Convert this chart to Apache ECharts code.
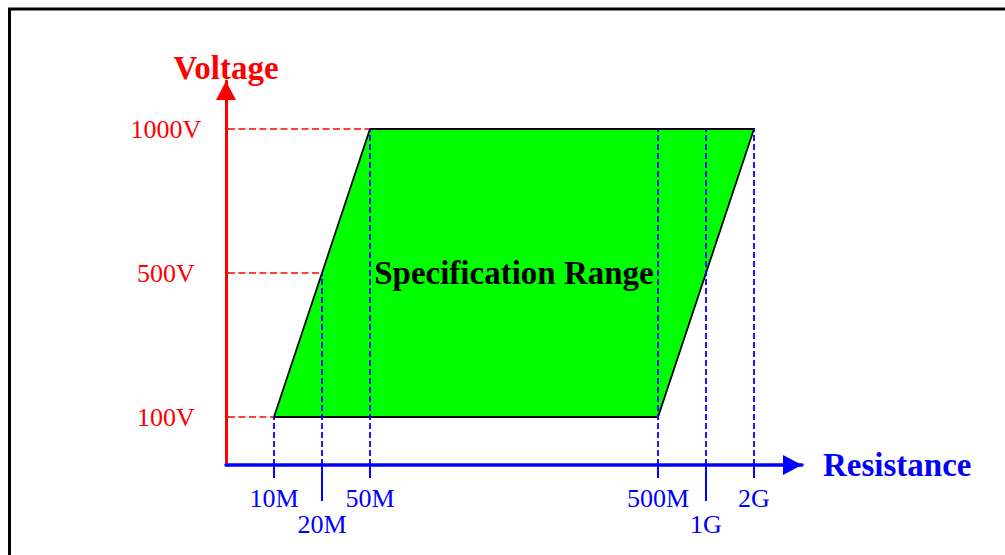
<!DOCTYPE html>
<html>
<head>
<meta charset="utf-8">
<script src="https://cdn.jsdelivr.net/npm/echarts@6/dist/echarts.min.js"></script>
<style>
html, body { margin: 0; padding: 0; background: #fff; }
#chart { width: 1005px; height: 555px; }
</style>
</head>
<body>
<div id="chart"></div>
<script>
// ---- data (schematic slots on each axis) ----
const resistanceLabels = ['10M', '20M', '50M', '500M', '1G', '2G'];
const resistanceSlots = [1, 2, 3, 9, 10, 11];
const resistanceGuideTop = [1, 4, 7, 7, 7, 7];   // voltage slot each vertical guide reaches
const resistanceLabelRow = [0, 1, 0, 0, 1, 0];   // 0 = upper row, 1 = lower row
const voltageLabels = ['100V', '500V', '1000V'];
const voltageSlots = [1, 4, 7];
const voltageGuideEnd = [1, 2, 3];                // resistance slot where horizontal guide ends
const rangeCorners = [[1, 1], [3, 7], [11, 7], [9, 1]]; // [resistance slot, voltage slot]
const rangeName = 'Specification Range';
const xAxisName = 'Resistance';
const yAxisName = 'Voltage';

const RED = '#ff0000', BLUE = '#0000ff', GREEN = '#00ff00';
const SERIF = '"Liberation Serif", "Times New Roman", serif';

const chart = echarts.init(document.getElementById('chart'), null, { renderer: 'svg' });

const resLabelMap = {};
resistanceSlots.forEach((s, i) => { resLabelMap[s] = resistanceLabels[i]; });
const voltLabelMap = {};
voltageSlots.forEach((s, i) => { voltLabelMap[s] = voltageLabels[i]; });
const upperSlots = resistanceSlots.filter((s, i) => resistanceLabelRow[i] === 0);
const lowerSlots = resistanceSlots.filter((s, i) => resistanceLabelRow[i] === 1);

const resLabelStyle = {
  color: BLUE, fontFamily: SERIF, fontSize: 26,
  hideOverlap: false, showMinLabel: true, showMaxLabel: true,
  formatter: function (v) { return resLabelMap[v]; }
};

chart.setOption({
  animation: false,
  backgroundColor: '#fff',
  graphic: [{
    type: 'rect',
    shape: { x: 9.5, y: 9, width: 1200, height: 700 },
    style: { fill: 'none', stroke: '#000', lineWidth: 3 },
    z: 100
  }],
  grid: { left: 226, top: 81, width: 576, height: 384 },
  xAxis: [{
    type: 'value', min: 0, max: 12, position: 'bottom',
    name: xAxisName, nameLocation: 'end', nameGap: 21,
    nameTextStyle: { color: BLUE, fontFamily: SERIF, fontWeight: 'bold', fontSize: 33, verticalAlign: 'middle' },
    axisLine: { show: true, onZero: false, lineStyle: { color: BLUE, width: 3.5 },
      symbol: ['none', 'triangle'], symbolSize: [20, 19], symbolOffset: [0, -9.5] },
    axisTick: { show: false },
    splitLine: { show: false },
    axisLabel: Object.assign({ show: true, customValues: upperSlots, margin: 20 }, resLabelStyle)
  }, {
    type: 'value', min: 0, max: 12, position: 'bottom', offset: 0,
    axisLine: { show: false, onZero: false },
    axisTick: { show: false },
    splitLine: { show: false },
    axisLabel: Object.assign({ show: true, customValues: lowerSlots, margin: 46 }, resLabelStyle)
  }],
  yAxis: {
    type: 'value', min: 0, max: 8,
    name: yAxisName, nameLocation: 'end', nameGap: -3,
    nameTextStyle: { color: RED, fontFamily: SERIF, fontWeight: 'bold', fontSize: 33, align: 'center' },
    axisLine: { show: true, onZero: false, lineStyle: { color: RED, width: 3 },
      symbol: ['none', 'triangle'], symbolSize: [20, 19], symbolOffset: [0, -9.5] },
    axisTick: { show: false },
    splitLine: { show: false },
    axisLabel: {
      show: true, customValues: voltageSlots, margin: 60, align: 'center',
      color: RED, fontFamily: SERIF, fontSize: 26,
      formatter: function (v) { return voltLabelMap[v]; }
    }
  },
  series: [
    {
      name: rangeName,
      type: 'custom',
      xAxisIndex: 0,
      data: rangeCorners,
      z: 2,
      renderItem: function (params, api) {
        if (params.dataIndexInside !== 0) return null;
        const n = params.dataInsideLength;
        const pts = [];
        let cx = 0, cy = 0;
        for (let i = 0; i < n; i++) {
          const vx = api.value(0, i), vy = api.value(1, i);
          pts.push(api.coord([vx, vy]));
          cx += vx; cy += vy;
        }
        const c = api.coord([cx / n, cy / n]);
        return {
          type: 'group',
          children: [
            { type: 'polygon', shape: { points: pts },
              style: { fill: GREEN, stroke: '#000', lineWidth: 1.8 } },
            { type: 'text', z2: 10,
              style: { text: rangeName, x: c[0], y: c[1], fill: '#000',
                font: 'bold 33px ' + SERIF, align: 'center', verticalAlign: 'middle' } }
          ]
        };
      }
    },
    {
      name: 'voltage guides',
      type: 'custom',
      xAxisIndex: 0,
      z: 3,
      data: voltageSlots.map((v, i) => [voltageGuideEnd[i], v]),
      renderItem: function (params, api) {
        const a = api.coord([0, api.value(1)]);
        const b = api.coord([api.value(0), api.value(1)]);
        return { type: 'line', shape: { x1: a[0] + 2, y1: a[1], x2: b[0], y2: b[1] },
          style: { stroke: RED, lineWidth: 1.7, lineDash: [7, 3.5] } };
      }
    },
    {
      name: 'resistance guides',
      type: 'custom',
      xAxisIndex: 0,
      z: 3,
      data: resistanceSlots.map((s, i) => [s, resistanceGuideTop[i], resistanceLabelRow[i]]),
      renderItem: function (params, api) {
        const base = api.coord([api.value(0), 0]);
        const top = api.coord([api.value(0), api.value(1)]);
        const tickLen = api.value(2) ? 36 : 13;
        return {
          type: 'group',
          children: [
            { type: 'line', shape: { x1: base[0], y1: base[1], x2: top[0], y2: top[1] },
              style: { stroke: BLUE, lineWidth: 1.8, lineDash: [6, 3] } },
            { type: 'line', shape: { x1: base[0], y1: base[1], x2: base[0], y2: base[1] + tickLen },
              style: { stroke: BLUE, lineWidth: 2 } }
          ]
        };
      }
    }
  ]
});
</script>
</body>
</html>
